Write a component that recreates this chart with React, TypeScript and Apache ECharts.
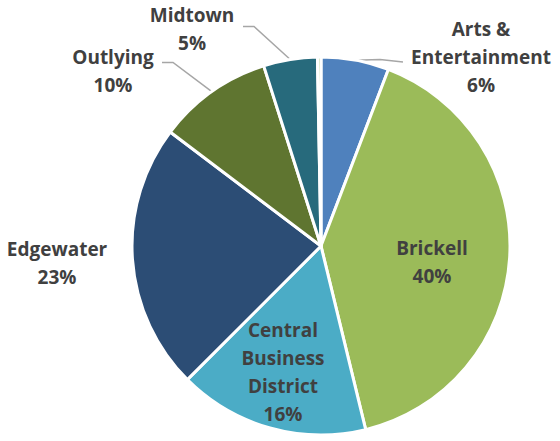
import React, { useEffect, useRef } from 'react';
import * as echarts from 'echarts';

// ---- data ----
const categories = [
  'Arts & Entertainment',
  'Brickell',
  'Central Business District',
  'Edgewater',
  'Outlying',
  'Midtown',
  'Other',
];
const labelNames = [
  'Arts &\nEntertainment',
  'Brickell',
  'Central\nBusiness\nDistrict',
  'Edgewater',
  'Outlying',
  'Midtown',
  '',
];
const shares = [5.8, 40.4, 16.3, 22.8, 9.8, 4.6, 0.3];

// ---- styling / layout ----
const colors = ['#4F81BD', '#9BBB59', '#4BACC6', '#2C4D75', '#5F7530', '#276A7C', '#C3D69B'];
const labelPositions = ['outside', 'inside', 'inside', 'outside', 'outside', 'outside', 'outside'];
const showLabel = [true, true, true, true, true, true, false];
const showLine = [true, false, false, false, true, true, false];
const labelAnchors: number[][] = [
  [481, 57],
  [432, 262],
  [283, 372],
  [57, 263],
  [113, 71],
  [192, 29],
  [0, 0],
];
const lineTails: (number[][] | null)[] = [
  [[380, 59.5], [403, 62]],
  null,
  null,
  null,
  [[173, 62.5], [162, 62.5]],
  [[254, 26.5], [243, 26.5]],
  null,
];

export default function App() {
  const ref = useRef<HTMLDivElement>(null);

  useEffect(() => {
    if (!ref.current) return;
    const chart = echarts.init(ref.current, undefined, { renderer: 'svg' });
    chart.setOption({
      animation: false,
      backgroundColor: '#ffffff',
      series: [
        {
          type: 'pie',
          center: [321, 246],
          radius: 189,
          startAngle: 90,
          clockwise: true,
          avoidLabelOverlap: false,
          silent: true,
          itemStyle: { borderColor: '#ffffff', borderWidth: 3 },
          label: {
            color: '#404040',
            fontFamily: '"Open Sans", "Noto Sans", sans-serif',
            fontWeight: 'bold',
            fontSize: 19,
            lineHeight: 28,
            formatter: (p: any) => `${labelNames[p.dataIndex]}\n${Math.round(p.percent)}%`,
          },
          labelLine: { lineStyle: { color: '#a6a6a6', width: 1.5 } },
          labelLayout: (p: any) => {
            const i = p.dataIndex;
            const a = labelAnchors[i];
            const out: any = { x: a[0], y: a[1], align: 'center', verticalAlign: 'middle' };
            const tail = lineTails[i];
            if (tail && p.labelLinePoints && p.labelLinePoints.length) {
              out.labelLinePoints = [p.labelLinePoints[0], tail[0], tail[1]];
            }
            return out;
          },
          emphasis: { disabled: true },
          data: categories.map((name, i) => ({
            name,
            value: shares[i],
            itemStyle: { color: colors[i] },
            label: { show: showLabel[i], position: labelPositions[i] },
            labelLine: { show: showLine[i] },
          })),
        },
      ],
    });
    return () => chart.dispose();
  }, []);

  return (
    <div
      ref={ref}
      style={{ position: 'fixed', left: 0, top: 0, width: 560, height: 441, background: '#fff' }}
    />
  );
}
